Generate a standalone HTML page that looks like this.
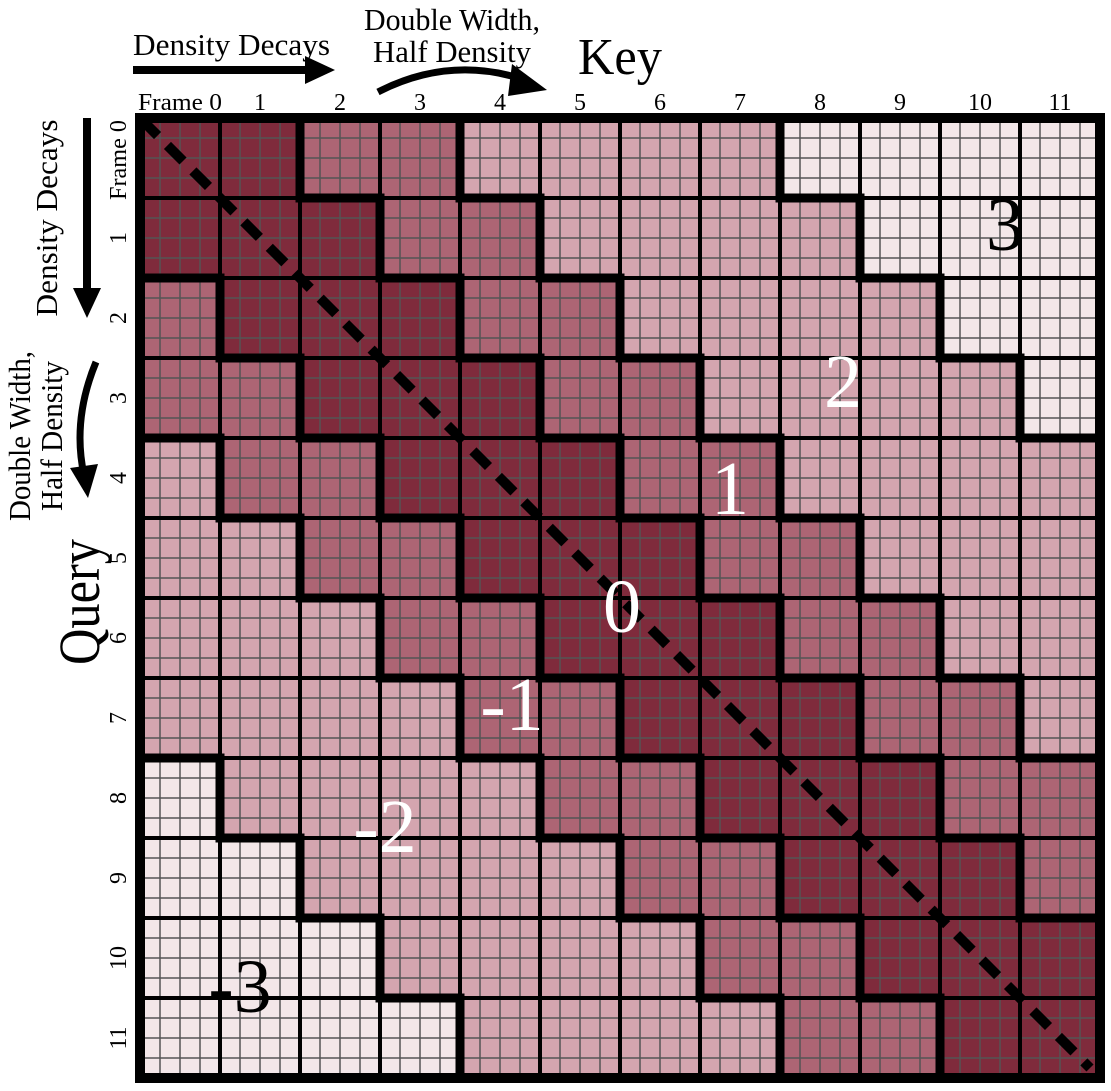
<!DOCTYPE html>
<html><head><meta charset="utf-8"><style>
html,body{margin:0;padding:0;background:#fff;}
svg{display:block;}
text{font-family:"Liberation Serif",serif;}
</style></head><body>
<svg id="s" width="1111" height="1091" viewBox="0 0 1111 1091" xmlns="http://www.w3.org/2000/svg">
<g id="cells"></g>
<g id="sub" stroke="#555" stroke-width="1.5"></g>
<g id="frm" stroke="#000" stroke-width="4"></g>
<g id="thick" stroke="#000" stroke-width="9" stroke-linecap="square"></g>
<rect x="140" y="118" width="960" height="960" fill="none" stroke="#000" stroke-width="10"/>
<line x1="142" y1="120" x2="1090" y2="1068" stroke="#000" stroke-width="10" stroke-dasharray="22,14"/>
<g font-size="76" text-anchor="middle">
<text x="1005" y="250" fill="#000">3</text>
<text x="843" y="407" fill="#fff">2</text>
<text x="730" y="514" fill="#fff">1</text>
<text x="622" y="632" fill="#fff">0</text>
<text x="512" y="730" fill="#fff">-1</text>
<text x="385" y="852" fill="#fff">-2</text>
<text x="240" y="1012" fill="#000">-3</text>
</g>
<g font-size="24" text-anchor="middle" id="cl"></g>
<g font-size="24" text-anchor="middle" id="rl"></g>
<text x="133" y="55" font-size="31" textLength="197" lengthAdjust="spacingAndGlyphs">Density Decays</text>
<line x1="133" y1="70" x2="308" y2="70" stroke="#000" stroke-width="8"/>
<polygon points="305,56 335,70 305,84" fill="#000"/>
<text x="452" y="30" font-size="31" text-anchor="middle" textLength="176" lengthAdjust="spacingAndGlyphs">Double Width,</text>
<text x="452" y="62" font-size="31" text-anchor="middle" textLength="158" lengthAdjust="spacingAndGlyphs">Half Density</text>
<path d="M378,92 Q450,55 525,80" fill="none" stroke="#000" stroke-width="7"/>
<polygon points="512,64 547,90 508,96" fill="#000"/>
<text x="620" y="74" font-size="52" text-anchor="middle" textLength="84" lengthAdjust="spacingAndGlyphs">Key</text>
<text transform="translate(57,218) rotate(-90)" font-size="31" text-anchor="middle" textLength="197" lengthAdjust="spacingAndGlyphs">Density Decays</text>
<line x1="87" y1="118" x2="87" y2="290" stroke="#000" stroke-width="8"/>
<polygon points="73,288 87,318 101,288" fill="#000"/>
<text transform="translate(30,436) rotate(-90)" font-size="31" text-anchor="middle" textLength="170" lengthAdjust="spacingAndGlyphs">Double Width,</text>
<text transform="translate(62,436) rotate(-90)" font-size="31" text-anchor="middle" textLength="150" lengthAdjust="spacingAndGlyphs">Half Density</text>
<path d="M96,362 Q72,420 84,475" fill="none" stroke="#000" stroke-width="7"/>
<polygon points="70,468 88,498 98,464" fill="#000"/>
<text transform="translate(99,602) rotate(-90)" font-size="58" text-anchor="middle" textLength="126" lengthAdjust="spacingAndGlyphs">Query</text>
</svg>
<script>
(function(){
var NS="http://www.w3.org/2000/svg";
function el(p,t,a,txt){var e=document.createElementNS(NS,t);for(var k in a)e.setAttribute(k,a[k]);if(txt!==undefined)e.textContent=txt;document.getElementById(p).appendChild(e);}
var X0=140,Y0=118,P=80;
var col=["#7f2b3c","#ad6574","#d4a5af","#f3e7e9"];
function lv(i,j){var d=Math.abs(i-j);if(d<=1)return 0;return Math.floor(Math.log2(d));}
for(var i=0;i<12;i++)for(var j=0;j<12;j++)el("cells","rect",{x:X0+j*P,y:Y0+i*P,width:P,height:P,fill:col[lv(i,j)]});
for(var k=1;k<48;k++){if(k%4==0)continue;var v=k*20;
el("sub","line",{x1:X0+v,y1:Y0,x2:X0+v,y2:Y0+960});
el("sub","line",{x1:X0,y1:Y0+v,x2:X0+960,y2:Y0+v});}
for(var k=1;k<12;k++){var v=k*P;
el("frm","line",{x1:X0+v,y1:Y0,x2:X0+v,y2:Y0+960});
el("frm","line",{x1:X0,y1:Y0+v,x2:X0+960,y2:Y0+v});}
for(var i=0;i<12;i++)for(var j=0;j<12;j++){
 if(j<11&&lv(i,j)!=lv(i,j+1))el("thick","line",{x1:X0+(j+1)*P,y1:Y0+i*P,x2:X0+(j+1)*P,y2:Y0+(i+1)*P});
 if(i<11&&lv(i,j)!=lv(i+1,j))el("thick","line",{x1:X0+j*P,y1:Y0+(i+1)*P,x2:X0+(j+1)*P,y2:Y0+(i+1)*P});
}
for(var j=0;j<12;j++){
 var cx=X0+j*P+P/2;
 if(j==0)el("cl","text",{x:138,y:110,"text-anchor":"start",textLength:84,lengthAdjust:"spacingAndGlyphs"},"Frame 0");
 else el("cl","text",{x:cx,y:110},""+j);
 var cy=Y0+j*P+P/2;
 if(j==0)el("rl","text",{transform:"translate(126,160) rotate(-90)",textLength:80,lengthAdjust:"spacingAndGlyphs"},"Frame 0");
 else el("rl","text",{transform:"translate(126,"+cy+") rotate(-90)"},""+j);
}
})();
</script>
</body></html>
